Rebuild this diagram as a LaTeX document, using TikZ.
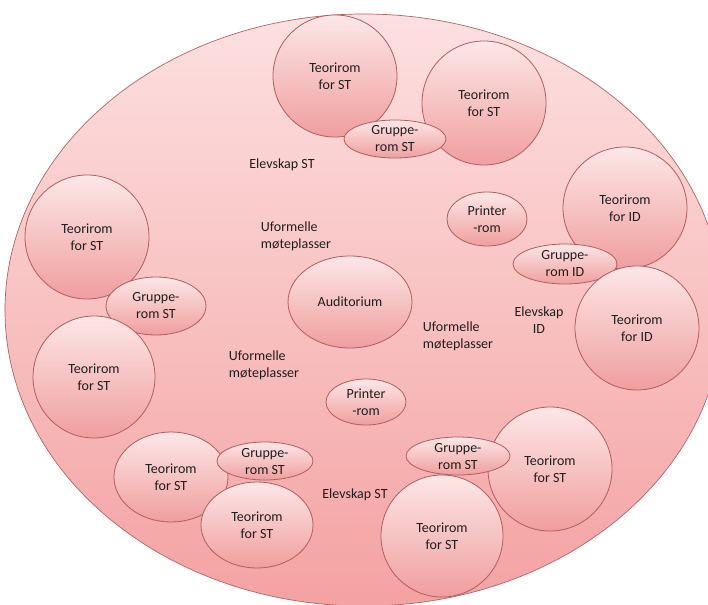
\documentclass[tikz,border=0pt]{standalone}
\usepackage{fontspec}
\setmainfont{Carlito}
\usetikzlibrary{shapes.geometric}

\definecolor{roomtop}{RGB}{253,231,231}
\definecolor{roombot}{RGB}{240,158,158}
\definecolor{roomline}{RGB}{178,92,92}
\definecolor{floortop}{RGB}{253,224,224}
\definecolor{floorbot}{RGB}{244,162,162}
\definecolor{floorline}{RGB}{176,100,100}
\definecolor{labeltext}{RGB}{30,30,30}

\tikzset{
  txt/.style={font=\fontsize{14}{17}\selectfont, text=labeltext, align=center, inner sep=0pt},
  room/.style={ellipse, draw=roomline, line width=0.8pt, top color=roomtop, bottom color=roombot,
               inner sep=0pt, outer sep=0pt, font=\fontsize{14}{17}\selectfont, text=labeltext, align=center},
  floor/.style={draw=floorline, line width=0.7pt, top color=floortop, bottom color=floorbot}
}

\begin{document}
\begin{tikzpicture}[x=1pt,y=-1pt]
\useasboundingbox (0,0) rectangle (708,604);
\clip (0,0) rectangle (708,604);

% whole floor
\path[floor] (364,310) ellipse [x radius=359, y radius=296];

% free labels on the floor
\node[txt] (elevST1) at (282,165) {Elevskap ST};
\node[txt, align=left] (uform1) at (296,236) {Uformelle\\møteplasser};
\node[txt, align=left] (uform2) at (458,336) {Uformelle\\møteplasser};
\node[txt, align=left] (uform3) at (264,365) {Uformelle\\møteplasser};
\node[txt] (elevID) at (539,320) {Elevskap\\ID};
\node[txt] (elevST2) at (355,495) {Elevskap ST};

% central rooms
\node[room, minimum width=124pt, minimum height=92pt] (aud) at (350,302) {Auditorium};
\node[room, minimum width=80pt, minimum height=54pt] (print1) at (487,219) {Printer\\-rom};
\node[room, minimum width=80pt, minimum height=46pt] (print2) at (366,402) {Printer\\-rom};

% top cluster
\node[room, minimum width=124pt, minimum height=122pt] (tA) at (335,76) {Teorirom\\for ST};
\node[room, minimum width=124pt, minimum height=124pt] (tB) at (484,103) {Teorirom\\for ST};
\node[room, minimum width=102pt, minimum height=38pt] (gTop) at (395,139) {Gruppe-\\rom ST};

% left cluster
\node[room, minimum width=124pt, minimum height=124pt] (tL1) at (87,237) {Teorirom\\for ST};
\node[room, minimum width=100pt, minimum height=58pt] (gLeft) at (156,306) {Gruppe-\\rom ST};
\node[room, minimum width=122pt, minimum height=122pt] (tL2) at (94,377) {Teorirom\\for ST};

% right cluster
\node[room, minimum width=124pt, minimum height=122pt] (tR1) at (625,208) {Teorirom\\for ID};
\node[room, minimum width=104pt, minimum height=40pt] (gRight) at (565,264) {Gruppe-\\rom ID};
\node[room, minimum width=124pt, minimum height=124pt] (tR2) at (637,328) {Teorirom\\for ID};

% bottom-left cluster
\node[room, minimum width=114pt, minimum height=90pt] (tBL1) at (171,477) {Teorirom\\for ST};
\node[room, minimum width=96pt, minimum height=38pt] (gBL) at (265,461) {Gruppe-\\rom ST};
\node[room, minimum width=112pt, minimum height=86pt] (tBL2) at (257,525) {Teorirom\\for ST};

% bottom-right cluster
\node[room, minimum width=124pt, minimum height=124pt] (tBR1) at (550,469) {Teorirom\\for ST};
\node[room, minimum width=104pt, minimum height=38pt] (gBR) at (458,456) {Gruppe-\\rom ST};
\node[room, minimum width=122pt, minimum height=122pt] (tBR2) at (442,536) {Teorirom\\for ST};
\end{tikzpicture}
\end{document}
